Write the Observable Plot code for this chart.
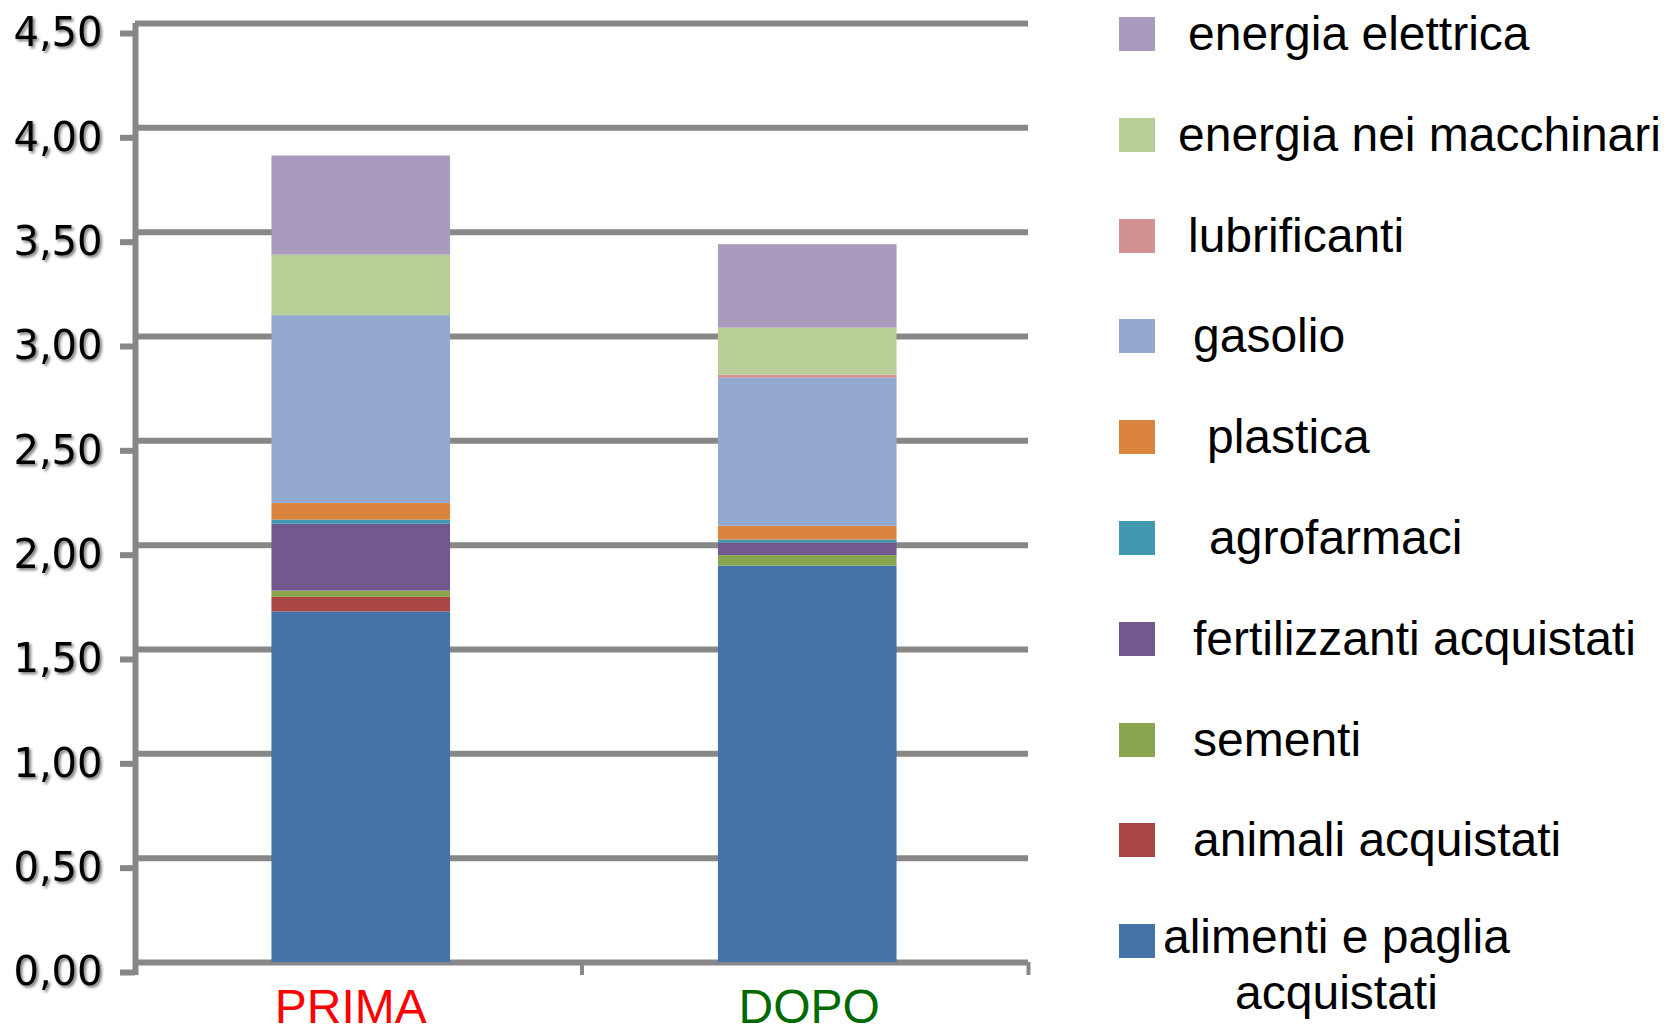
<!DOCTYPE html>
<html>
<head>
<meta charset="utf-8">
<script src="https://cdn.jsdelivr.net/npm/d3@7"></script>
<script src="https://cdn.jsdelivr.net/npm/@observablehq/plot@0.6"></script>
<style>
  html, body { margin: 0; padding: 0; background: #fff; }
  #wrap { position: relative; width: 1668px; height: 1034px; overflow: hidden; background: #fff; }
  #chart svg { display: block; }
  #chart g[aria-label="y-axis tick label"] { filter: drop-shadow(2px 2px 1.5px rgba(0,0,0,0.55)); }
  .legend-item {
    position: absolute;
    font-family: "Liberation Sans", Arial, sans-serif;
    font-size: 48px;
    line-height: 54px;
    color: #000;
    white-space: nowrap;
  }
  .swatch { position: absolute; width: 36px; height: 34px; }
</style>
</head>
<body>
<div id="wrap">
  <div id="chart"></div>
  <div id="legend"></div>
</div>
<script>
// Stacked components, bottom to top
const categories = [
  "alimenti e paglia acquistati",
  "animali acquistati",
  "sementi",
  "fertilizzanti acquistati",
  "agrofarmaci",
  "plastica",
  "gasolio",
  "lubrificanti",
  "energia nei macchinari",
  "energia elettrica"
];
const periods = ["PRIMA", "DOPO"];
const primaValues = [1.68, 0.07, 0.03, 0.32, 0.02, 0.08, 0.90, 0.00, 0.29, 0.475];
const dopoValues  = [1.90, 0.00, 0.05, 0.06, 0.015, 0.065, 0.71, 0.015, 0.225, 0.40];
const yTicks = [0, 0.5, 1, 1.5, 2, 2.5, 3, 3.5, 4, 4.5];

const seriesColors = [
  "#4572A7", "#AA4643", "#89A54E", "#71588F", "#4198AF",
  "#DB843D", "#93A9CF", "#D19392", "#B9CD96", "#A99BBD"
];
const periodColors = ["#ff0000", "#006a00"];

const valuesByPeriod = [primaValues, dopoValues];
const rows = periods.flatMap((period, i) =>
  categories.map((category, j) => ({ period, index: i, category, value: valuesByPeriod[i][j] }))
);

const gridColor = "#878787";
const fmt = d => d.toFixed(2).replace(".", ",");
const labelShift = [-8, 4];

const chart = Plot.plot({
  width: 1668,
  height: 1034,
  marginLeft: 135,
  marginRight: 640,
  marginTop: 23,
  marginBottom: 72,
  x: { domain: [0, periods.length], axis: null },
  y: { domain: [0, 4.5], axis: null },
  color: { domain: categories, range: seriesColors },
  style: { background: "white" },
  marks: [
    // horizontal gridlines
    Plot.ruleY(yTicks, { stroke: gridColor, strokeWidth: 6 }),
    // y axis: ticks and labels
    Plot.axisY({
      ticks: yTicks,
      tickSize: 15,
      tickPadding: 18,
      tickFormat: fmt,
      stroke: gridColor,
      strokeWidth: 6,
      fontSize: 40,
      fontFamily: "DejaVu Sans",
      fill: "#000",
      dy: 10,
      label: null
    }),
    // stacked bars
    Plot.rectY(rows, Plot.stackY({
      x1: d => d.index + 0.3,
      x2: d => d.index + 0.7,
      y: "value",
      fill: "category",
      order: categories,
      dx: 2.5
    })),
    // vertical axis line
    Plot.ruleX([0], { y1: 4.5, y2: 0, stroke: gridColor, strokeWidth: 6, insetBottom: -13 }),
    // category boundary ticks along the bottom
    Plot.axisX({
      ticks: d3.range(periods.length + 1),
      tickSize: 13,
      tickFormat: () => "",
      stroke: gridColor,
      strokeWidth: 4,
      label: null
    }),
    // period labels
    ...periods.map((p, i) => Plot.text([p], {
      x: i + 0.5,
      y: 0,
      text: d => d,
      fill: periodColors[i],
      fontSize: 48,
      fontFamily: "Liberation Sans",
      lineAnchor: "middle",
      dy: 45,
      dx: labelShift[i]
    }))
  ]
});
document.getElementById("chart").appendChild(chart);

// Legend, top to bottom (reverse of stacking order)
const legendTop = 34;
const legendStep = 100.8;
const swatchLeft = 1119;
const textLeft = [1188, 1178, 1188, 1193, 1207, 1209, 1193, 1193, 1193, 1163];
const legendEntries = categories.map((c, j) => ({ c, color: seriesColors[j] })).reverse();
const legend = d3.select("#legend");
legendEntries.forEach((e, k) => {
  const cy = legendTop + k * legendStep;
  legend.append("div")
    .attr("class", "swatch")
    .style("left", swatchLeft + "px")
    .style("top", (cy - 17) + "px")
    .style("background", e.color);
  const item = legend.append("div")
    .attr("class", "legend-item")
    .style("left", textLeft[k] + "px");
  if (e.c === "alimenti e paglia acquistati") {
    item.style("top", (cy - 32) + "px")
      .style("line-height", "56px")
      .style("text-align", "center")
      .html("alimenti e paglia<br>acquistati");
  } else {
    item.style("top", (cy - 27) + "px").text(e.c);
  }
});
</script>
</body>
</html>
